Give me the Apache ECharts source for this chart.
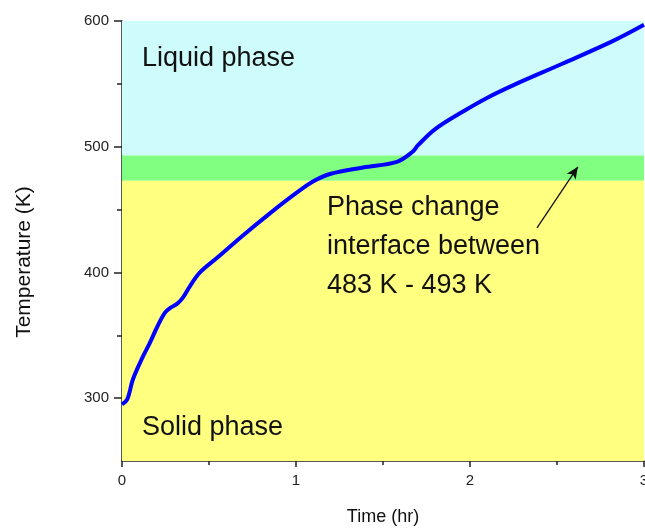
<!DOCTYPE html>
<html>
<head>
<meta charset="utf-8">
<script src="https://cdn.jsdelivr.net/npm/echarts@6/dist/echarts.min.js"></script>
<style>
  html, body { margin: 0; padding: 0; background: #fff; }
  #chart { width: 645px; height: 532px; }
</style>
</head>
<body>
<div id="chart"></div>
<script>
// Heating curve: temperature (K) against time (hr)
const timeHr = [0, 0.03, 0.063, 0.12, 0.16, 0.2, 0.247, 0.28, 0.316, 0.35, 0.39, 0.448,
  0.55, 0.7, 0.85, 1.0, 1.1, 1.2, 1.385, 1.58, 1.67, 1.7, 1.8, 1.96, 2.1,
  2.25, 2.53, 2.82, 3.0];
const temperatureK = [295, 299, 315, 333, 344, 356, 368, 372, 375, 380, 389, 400,
  412, 430, 447, 463, 472.5, 478.5, 483.5, 488, 496, 501, 514, 528, 539,
  549, 566, 584, 597];

// Phase regions (lower, upper, colour)
const bandLower = [493, 473, 250];
const bandUpper = [600, 493, 473];
const bandColors = ['#CEFBFB', '#80FF80', '#FFFF80'];

// Axis ticks
const xTicks = [0, 1, 2, 3];
const yMajorTicks = [300, 400, 500, 600];
const yMinorTicks = [350, 450, 550];

// Arrow pointing at the phase-change band: [time, temperature]
const arrowFrom = [2.385, 435.5];
const arrowTo = [2.62, 484];

const FONT = 'Liberation Sans, Arial, Helvetica, sans-serif';
const INK = '#111';

const chart = echarts.init(document.getElementById('chart'), null, { renderer: 'canvas' });

const points = timeHr.map((t, i) => [t, temperatureK[i]]);
const bands = bandLower.map((lo, i) => [
  { yAxis: lo, itemStyle: { color: bandColors[i], opacity: 1 } },
  { yAxis: bandUpper[i] }
]);

function label(text, x, y, size, extra) {
  return Object.assign({
    type: 'text', x: x, y: y, z: 100,
    style: { text: text, font: size + 'px ' + FONT, fill: INK, align: 'left', verticalAlign: 'middle' }
  }, extra || {});
}

chart.setOption({
  animation: false,
  backgroundColor: '#fff',
  grid: { left: 122, right: 1, top: 21, bottom: 71, containLabel: false, outerBoundsMode: 'none' },
  xAxis: {
    type: 'value',
    min: xTicks[0],
    max: xTicks[xTicks.length - 1],
    interval: 1,
    name: 'Time (hr)',
    nameLocation: 'middle',
    nameGap: 47,
    nameTextStyle: { fontFamily: FONT, fontSize: 18, color: INK },
    axisLine: { show: true, lineStyle: { color: '#222', width: 1.5 } },
    axisTick: { show: true, length: 6, lineStyle: { color: '#222', width: 1.5 } },
    minorTick: { show: true, splitNumber: 2, length: 4, lineStyle: { color: '#222', width: 1.5 } },
    axisLabel: { fontFamily: FONT, fontSize: 15, color: '#222', margin: 12 },
    splitLine: { show: false }
  },
  yAxis: [
    {
      type: 'value',
      min: 250,
      max: 600,
      position: 'left',
      axisLine: { show: true, lineStyle: { color: '#222', width: 1.5 } },
      axisTick: { show: true, length: 8, customValues: yMajorTicks, lineStyle: { color: '#222', width: 1.5 } },
      axisLabel: { fontFamily: FONT, fontSize: 15, color: '#222', margin: 13, customValues: yMajorTicks },
      splitLine: { show: false }
    },
    {
      type: 'value',
      min: 250,
      max: 600,
      position: 'left',
      offset: 0,
      axisLine: { show: false },
      axisTick: { show: true, length: 5, customValues: yMinorTicks, lineStyle: { color: '#222', width: 1.5 } },
      axisLabel: { show: false },
      splitLine: { show: false }
    }
  ],
  series: [
    {
      name: 'phases',
      type: 'line',
      data: [],
      z: 0,
      silent: true,
      markArea: { silent: true, data: bands }
    },
    {
      name: 'temperature',
      type: 'line',
      data: points,
      z: 3,
      smooth: 0.35,
      showSymbol: false,
      lineStyle: { color: '#0000FF', width: 4 },
      markLine: {
        silent: true,
        symbol: ['none', 'arrow'],
        symbolSize: [8, 12],
        label: { show: false },
        lineStyle: { color: INK, width: 1.3, type: 'solid' },
        data: [[{ coord: arrowFrom }, { coord: arrowTo }]]
      }
    }
  ],
  graphic: [
    {
      type: 'text', x: 24, y: 262, rotation: Math.PI / 2, z: 100,
      style: { text: 'Temperature (K)', font: '21px ' + FONT, fill: INK, align: 'center', verticalAlign: 'middle' }
    },
    label('Liquid phase', 142, 58.5, 27),
    label('Solid phase', 142, 427.5, 27),
    label('Phase change', 327, 207.5, 27),
    label('interface between', 327, 246.5, 27),
    label('483 K - 493 K', 327, 286, 27)
  ]
});
</script>
</body>
</html>
